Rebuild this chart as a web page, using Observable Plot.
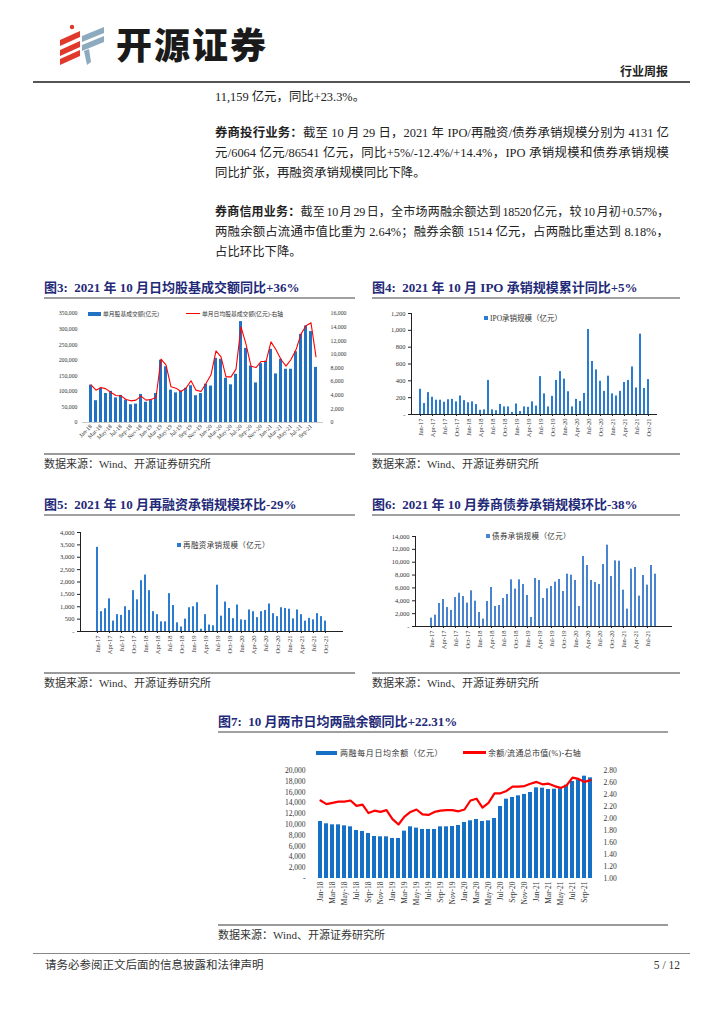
<!DOCTYPE html>
<html><head><meta charset="utf-8">
<script src="https://cdn.jsdelivr.net/npm/d3@7"></script>
<script src="https://cdn.jsdelivr.net/npm/@observablehq/plot@0.6"></script>
<style>
body{margin:0;background:#fff;}
#page{position:relative;width:724px;height:1024px;overflow:hidden;font-family:"Liberation Serif","Noto Sans CJK SC",serif;color:#222;background:#fff;}
.p{position:absolute;left:215px;width:454px;font-size:12.4px;line-height:20px;}
.j{text-align:justify;text-align-last:justify;}
.tight{font-size:12px;letter-spacing:-0.3px;word-spacing:-1.5px;}
.title{position:absolute;font-size:13px;line-height:16px;font-weight:bold;color:#1f2a78;white-space:nowrap;}
.hr{position:absolute;height:2px;background:#a0a0a0;}
.hr2{position:absolute;height:1.5px;background:#9a9a9a;}
.src{position:absolute;font-size:11px;line-height:14px;color:#333;white-space:nowrap;}
.chart{position:absolute;}
.chart svg{overflow:visible;}
.chart svg text{font-family:"Liberation Serif","Noto Sans CJK SC",serif;fill:#333;}
.c3 svg text{font-size:5.8px;}
.c4 svg text,.c5 svg text,.c6 svg text{font-size:6.5px;}
.c7 svg text{font-size:7.5px;}
.lg{position:absolute;white-space:nowrap;color:#333;display:flex;align-items:center;}
.sw{display:inline-block;}
</style></head>
<body><div id="page">
<!-- header -->
<svg style="position:absolute;left:0;top:0" width="120" height="80">
  <circle cx="72" cy="27" r="2.2" fill="#e0382b"/>
  <polygon points="60,40 80,31 80,37 60,46" fill="#e0382b"/>
  <polygon points="60,50 80,41 80,47 60,56" fill="#e0382b"/>
  <polygon points="60,59 80,50 80,56 60,65" fill="#e0382b"/>
  <polygon points="82,36 104,27 104,33 82,42" fill="#8eaabf"/>
  <polygon points="82,45 104,36 104,42 82,51" fill="#8eaabf"/>
  <polygon points="84,51 89,49 91,62 87,65" fill="#8eaabf"/>
</svg>
<div style="position:absolute;left:116px;top:21px;font-family:'Noto Sans CJK SC';font-weight:900;font-size:36px;line-height:44px;letter-spacing:2px;color:#1a1a1a;">开源证券</div>
<div style="position:absolute;right:56px;top:65px;font-size:12px;font-weight:bold;line-height:14px;">行业周报</div>
<div style="position:absolute;left:33px;top:81px;width:657px;height:2px;background:#555;"></div>

<!-- body text -->
<div class="p" style="top:87px;">11,159 亿元，同比+23.3%。</div>
<div class="p j" style="top:123px;"><b>券商投行业务：</b>截至 10 月 29 日，2021 年 IPO/再融资/债券承销规模分别为 4131 亿</div>
<div class="p j" style="top:143px;">元/6064 亿元/86541 亿元，同比+5%/-12.4%/+14.4%，IPO 承销规模和债券承销规模</div>
<div class="p" style="top:163px;">同比扩张，再融资承销规模同比下降。</div>
<div class="p j tight" style="top:202px;"><b>券商信用业务：</b>截至 10 月 29 日，全市场两融余额达到 18520 亿元，较 10 月初+0.57%，</div>
<div class="p j" style="top:222px;">两融余额占流通市值比重为 2.64%；融券余额 1514 亿元，占两融比重达到 8.18%，</div>
<div class="p" style="top:242px;">占比环比下降。</div>

<!-- titles -->
<div class="title" style="left:44px;top:280px;">图3:&nbsp; 2021 年 10 月日均股基成交额同比+36%</div>
<div class="hr" style="left:44px;top:297px;width:311px;"></div>
<div class="title" style="left:372px;top:280px;">图4:&nbsp; 2021 年 10 月 IPO 承销规模累计同比+5%</div>
<div class="hr" style="left:372px;top:297px;width:308px;"></div>

<div class="hr2" style="left:44px;top:453px;width:311px;"></div>
<div class="src" style="left:44px;top:457px;">数据来源：Wind、开源证券研究所</div>
<div class="hr2" style="left:372px;top:453px;width:308px;"></div>
<div class="src" style="left:372px;top:457px;">数据来源：Wind、开源证券研究所</div>

<div class="title" style="left:44px;top:497px;">图5:&nbsp; 2021 年 10 月再融资承销规模环比-29%</div>
<div class="hr" style="left:44px;top:514px;width:311px;"></div>
<div class="title" style="left:372px;top:497px;">图6:&nbsp; 2021 年 10 月券商债券承销规模环比-38%</div>
<div class="hr" style="left:372px;top:514px;width:308px;"></div>

<div class="hr2" style="left:44px;top:672px;width:311px;"></div>
<div class="src" style="left:44px;top:676px;">数据来源：Wind、开源证券研究所</div>
<div class="hr2" style="left:372px;top:672px;width:308px;"></div>
<div class="src" style="left:372px;top:676px;">数据来源：Wind、开源证券研究所</div>

<div class="title" style="left:218px;top:714px;">图7:&nbsp; 10 月两市日均两融余额同比+22.31%</div>
<div class="hr" style="left:218px;top:731px;width:450px;"></div>
<div class="hr2" style="left:218px;top:924px;width:450px;"></div>
<div class="src" style="left:218px;top:928px;">数据来源：Wind、开源证券研究所</div>

<!-- footer -->
<div style="position:absolute;left:33px;top:953px;width:657px;height:1px;background:#888;"></div>
<div class="src" style="left:45px;top:958px;font-size:11.5px;">请务必参阅正文后面的信息披露和法律声明</div>
<div class="src" style="right:44px;top:958px;font-size:11.5px;">5 / 12</div>

<!-- legends -->
<div class="lg" style="left:88px;top:309px;font-size:5.8px;"><span class="sw" style="width:13px;height:4px;background:#1f72c4;margin-right:2px;"></span>单月股基成交额(亿元)</div>
<div class="lg" style="left:186px;top:309px;font-size:5.8px;"><span class="sw" style="width:14px;height:1.2px;background:#ff0000;margin-right:2px;"></span>单月日均股基成交额(亿元)-右轴</div>
<div class="lg" style="left:484px;top:312px;font-size:7.5px;"><span class="sw" style="width:4px;height:4px;background:#2b7bd0;margin-right:2px;"></span>IPO承销规模（亿元）</div>
<div class="lg" style="left:177px;top:539px;font-size:7.5px;letter-spacing:0.4px;"><span class="sw" style="width:4px;height:4px;background:#2b7bd0;margin-right:2px;"></span>再融资承销规模（亿元）</div>
<div class="lg" style="left:486px;top:530px;font-size:7.5px;letter-spacing:0.4px;"><span class="sw" style="width:4px;height:4px;background:#4a84d0;margin-right:2px;"></span>债券承销规模（亿元）</div>
<div class="lg" style="left:316px;top:747px;font-size:8px;letter-spacing:0.6px;"><span class="sw" style="width:21px;height:4px;background:#1570c6;margin-right:3px;"></span>两融每月日均余额（亿元）</div>
<div class="lg" style="left:463px;top:747px;font-size:8px;letter-spacing:0.3px;"><span class="sw" style="width:23px;height:2.5px;background:#ff0000;margin-right:2px;"></span>余额/流通总市值(%)-右轴</div>

<div id="c3" class="chart c3" style="left:40px;top:305px;"></div>
<div id="c4" class="chart c4" style="left:370px;top:305px;"></div>
<div id="c5" class="chart c5" style="left:40px;top:525px;"></div>
<div id="c6" class="chart c6" style="left:370px;top:525px;"></div>
<div id="c7" class="chart c7" style="left:210px;top:760px;"></div>
</div>
<script>
// ---------- categories ----------
const months17 = ["Jan-17","Feb-17","Mar-17","Apr-17","May-17","Jun-17","Jul-17","Aug-17","Sep-17","Oct-17","Nov-17","Dec-17",
"Jan-18","Feb-18","Mar-18","Apr-18","May-18","Jun-18","Jul-18","Aug-18","Sep-18","Oct-18","Nov-18","Dec-18",
"Jan-19","Feb-19","Mar-19","Apr-19","May-19","Jun-19","Jul-19","Aug-19","Sep-19","Oct-19","Nov-19","Dec-19",
"Jan-20","Feb-20","Mar-20","Apr-20","May-20","Jun-20","Jul-20","Aug-20","Sep-20","Oct-20","Nov-20","Dec-20",
"Jan-21","Feb-21","Mar-21","Apr-21","May-21","Jun-21","Jul-21","Aug-21","Sep-21","Oct-21"];
const months18 = months17.slice(12);            // Jan-18 .. Oct-21 (46)
const monthsBond = months17.slice(0, 57);       // Jan-17 .. Sep-21 (57)
const xTicksBiMonthly = ["Jan-18","Mar-18","May-18","Jul-18","Sep-18","Nov-18","Jan-19","Mar-19","May-19","Jul-19","Sep-19","Nov-19","Jan-20","Mar-20","May-20","Jul-20","Sep-20","Nov-20","Jan-21","Mar-21","May-21","Jul-21","Sep-21"];
const xTicksQuarterly = ["Jan-17","Apr-17","Jul-17","Oct-17","Jan-18","Apr-18","Jul-18","Oct-18","Jan-19","Apr-19","Jul-19","Oct-19","Jan-20","Apr-20","Jul-20","Oct-20","Jan-21","Apr-21","Jul-21","Oct-21"];
const xTicksBond = ["Jan-17","Apr-17","Jul-17","Oct-17","Jan-18","Apr-18","Jul-18","Oct-18","Jan-19","Apr-19","Jul-19","Oct-19","Jan-20","Apr-20","Jul-20","Oct-20","Jan-21","Apr-21","Jul-21"];

// ---------- values ----------
// Fig 3: monthly stock+fund turnover (亿元) and daily average (亿元, right axis)
const turnover = [120000,70000,110000,93000,100000,79000,87000,72000,57000,59000,90000,65000,
73000,93000,200000,179000,104000,95000,100000,110000,118000,86000,93000,123000,
117000,206000,203000,142000,121000,155000,324000,238000,181000,127000,189000,197000,
235000,156000,203000,171000,171000,227000,283000,310000,292000,177000];
const dailyTurnover = [5530,4750,5140,4940,4400,3960,3910,3380,3180,3280,3870,3280,
3380,3670,9300,8460,5240,5040,4550,5040,6120,4750,4550,5720,
7000,10520,9640,6700,6700,7830,14040,11500,8270,8070,8950,8950,
11840,10670,9250,8270,9250,10670,12970,14190,14630,9640];
const yTicks3 = [0,50000,100000,150000,200000,250000,300000,350000];
const yTicks3R = [0,2000,4000,6000,8000,10000,12000,14000,16000];

// Fig 4: IPO underwriting (亿元)
const ipo = [300,130,260,205,170,170,145,175,180,150,220,165,
140,150,118,50,55,405,55,45,120,90,90,25,
125,35,90,85,150,100,450,245,90,215,405,510,
420,270,90,180,155,250,1010,630,530,395,275,455,
245,220,275,380,405,565,315,955,310,415];
const yTicks4 = [0,200,400,600,800,1000,1200];

// Fig 5: refinancing underwriting (亿元)
const refinance = [3400,800,920,1320,420,680,650,1000,850,1650,1280,2050,
2280,1650,800,680,390,390,1530,1050,350,180,500,960,
1000,1160,90,680,260,230,1870,620,1190,930,520,1070,
470,450,870,800,560,800,850,1110,720,600,960,930,
900,510,870,680,420,530,470,720,600,420];
const yTicks5 = [0,500,1000,1500,2000,2500,3000,3500,4000];

// Fig 6: bond underwriting (亿元)
const bond = [1300,1760,3580,4200,2950,2500,4500,5180,4660,3630,5550,3940,
2180,1140,3890,6070,3110,3270,4360,4980,7260,5810,7260,6530,
4820,1400,7470,7160,4360,5860,6220,6900,7310,5440,8140,7980,
7160,3110,10890,9490,7160,6840,6530,9640,12650,7780,10210,10160,
5650,2700,8920,9180,4720,7930,6430,9490,8140];
const yTicks6 = [0,2000,4000,6000,8000,10000,12000,14000];

// Fig 7: margin balance daily avg (亿元) and balance / float market cap (%)
const marginBal = [10560,10130,9940,9940,9750,9570,8890,8700,8340,7780,7720,7720,
7410,7410,8770,9570,9330,9080,9080,9080,9570,9570,9630,9820,
10370,10680,10930,10560,10680,11110,13340,14690,15000,15310,15560,15930,
16790,16730,16480,16540,16610,17290,17970,18270,18950,18640];
const marginRatio = [2.30,2.24,2.26,2.28,2.28,2.30,2.21,2.23,2.09,2.13,2.11,2.14,
1.99,1.90,2.03,2.11,2.15,2.07,2.06,2.11,2.13,2.14,2.14,2.12,
2.15,2.30,2.33,2.18,2.26,2.42,2.42,2.46,2.53,2.53,2.54,2.58,
2.61,2.57,2.58,2.54,2.51,2.55,2.68,2.66,2.61,2.64];
const yTicks7 = [0,2000,4000,6000,8000,10000,12000,14000,16000,18000,20000];
const yTicks7R = [1.0,1.2,1.4,1.6,1.8,2.0,2.2,2.4,2.6,2.8];

// ---------- helpers ----------
const fmtComma = d3.format(",");
const dashZero = d => d === 0 ? "-" : fmtComma(d);

// ---------- Fig 3 ----------
{
  const k = 350000 / 16000;
  const data = months18.map((m, i) => ({m, v: turnover[i], d: dailyTurnover[i]}));
  const chart = Plot.plot({
    width: 320, height: 145,
    marginLeft: 42, marginRight: 37, marginTop: 8, marginBottom: 28,
    x: {type: "band", domain: months18, padding: 0.42, ticks: xTicksBiMonthly, tickRotate: -45, tickSize: 0, tickPadding: 3, label: null},
    y: {domain: [0, 350000], ticks: yTicks3, tickFormat: d => d === 0 ? "0" : fmtComma(d), tickSize: 0, tickPadding: 5, label: null},
    marks: [
      Plot.barY(data, {x: "m", y: "v", fill: "#1f72c4"}),
      Plot.ruleY([0], {stroke: "#c8c8c8"}),
      Plot.line(data, {x: "m", y: d => d.d * k, stroke: "#ff0000", strokeWidth: 1.1}),
      Plot.text(yTicks3R, {y: d => d * k, text: d => d === 0 ? "0" : fmtComma(d), frameAnchor: "right", textAnchor: "start", dx: 7})
    ]
  });
  document.getElementById("c3").append(chart);
}

// ---------- Fig 4 ----------
{
  const data = months17.map((m, i) => ({m, v: ipo[i]}));
  const chart = Plot.plot({
    width: 320, height: 145,
    marginLeft: 41, marginRight: 34, marginTop: 8, marginBottom: 36,
    x: {type: "band", domain: months17, padding: 0.5, ticks: xTicksQuarterly, tickRotate: -90, tickSize: 2, tickPadding: 2, line: true, label: null},
    y: {domain: [0, 1200], ticks: yTicks4, tickFormat: dashZero, tickSize: 3, tickPadding: 3, line: true, label: null},
    marks: [
      Plot.barY(data, {x: "m", y: "v", fill: "#2b7bd0"})
    ]
  });
  document.getElementById("c4").append(chart);
}

// ---------- Fig 5 ----------
{
  const data = months17.map((m, i) => ({m, v: refinance[i]}));
  const chart = Plot.plot({
    width: 320, height: 145,
    marginLeft: 40, marginRight: 18, marginTop: 7, marginBottom: 39,
    x: {type: "band", domain: months17, padding: 0.5, ticks: xTicksQuarterly, tickRotate: -90, tickSize: 2, tickPadding: 2, line: true, label: null},
    y: {domain: [0, 4000], ticks: yTicks5, tickFormat: dashZero, tickSize: 3, tickPadding: 3, line: true, label: null},
    marks: [
      Plot.barY(data, {x: "m", y: "v", fill: "#2b7bd0"})
    ]
  });
  document.getElementById("c5").append(chart);
}

// ---------- Fig 6 ----------
{
  const data = monthsBond.map((m, i) => ({m, v: bond[i]}));
  const chart = Plot.plot({
    width: 320, height: 145,
    marginLeft: 45, marginRight: 19, marginTop: 11, marginBottom: 44,
    x: {type: "band", domain: monthsBond, padding: 0.5, ticks: xTicksBond, tickRotate: -90, tickSize: 2, tickPadding: 2, line: true, label: null},
    y: {domain: [0, 14000], ticks: yTicks6, tickFormat: dashZero, tickSize: 3, tickPadding: 3, line: true, label: null},
    marks: [
      Plot.barY(data, {x: "m", y: "v", fill: "#4a84d0"})
    ]
  });
  document.getElementById("c6").append(chart);
}

// ---------- Fig 7 ----------
{
  const toLeft = r => (r - 1.0) / 1.8 * 20000;
  const data = months18.map((m, i) => ({m, v: marginBal[i], r: marginRatio[i]}));
  const chart = Plot.plot({
    width: 460, height: 160,
    marginLeft: 103, marginRight: 73, marginTop: 10, marginBottom: 42,
    x: {type: "band", domain: months18, padding: 0.4, ticks: xTicksBiMonthly, tickRotate: -90, tickSize: 0, tickPadding: 3, label: null},
    y: {domain: [0, 20000], ticks: yTicks7, tickFormat: dashZero, tickSize: 0, tickPadding: 8, label: null},
    marks: [
      Plot.barY(data, {x: "m", y: "v", fill: "#1570c6"}),
      Plot.line(data, {x: "m", y: d => toLeft(d.r), stroke: "#ff0000", strokeWidth: 2.2}),
      Plot.text(yTicks7R, {y: toLeft, text: d => d.toFixed(2), frameAnchor: "right", textAnchor: "start", dx: 6})
    ]
  });
  document.getElementById("c7").append(chart);
}
</script>
</body></html>
